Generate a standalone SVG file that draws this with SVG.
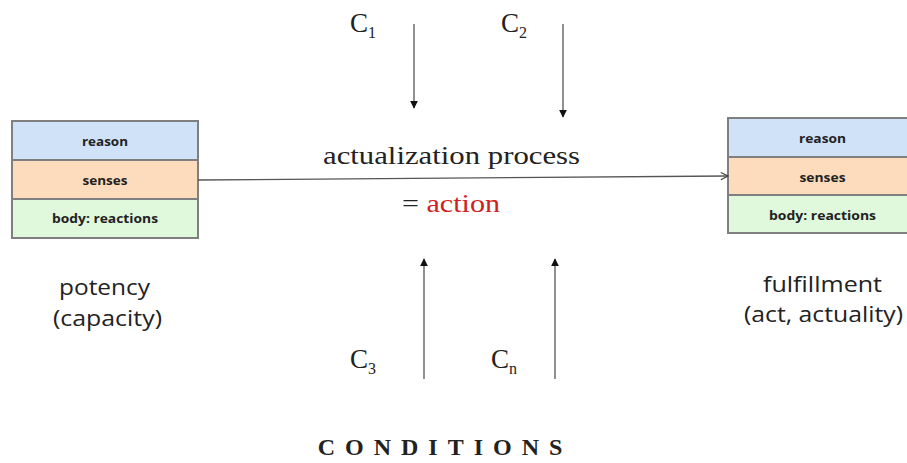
<svg xmlns="http://www.w3.org/2000/svg" width="907" height="463" viewBox="0 0 907 463">
<style>
.box{stroke:#7f7f7f;stroke-width:2}
.r{fill:#cfe2f8}.s{fill:#fcdcbd}.b{fill:#e0f8dc}
.bl{font-family:"Open Sans","Liberation Sans",sans-serif;font-weight:bold;font-size:12px;fill:#222;text-anchor:middle}
.cap{font-family:"Open Sans","Liberation Sans",sans-serif;font-size:22px;fill:#222;text-anchor:middle}
.tm{font-family:"Liberation Serif","Times New Roman",serif;fill:#222}
.ar{stroke:#555;stroke-width:1.3;fill:none}
</style>
<defs>
<marker id="tri" viewBox="0 0 10 10" refX="9" refY="5" markerWidth="8" markerHeight="8" markerUnits="userSpaceOnUse" orient="auto">
<path d="M0,0 L10,5 L0,10 z" fill="#111"/>
</marker>
<marker id="open" viewBox="0 0 10 10" refX="9" refY="5" markerWidth="9" markerHeight="9" markerUnits="userSpaceOnUse" orient="auto">
<path d="M1,1 L9,5 L1,9" fill="none" stroke="#444" stroke-width="1.3"/>
</marker>
</defs>
<g id="potency">
<rect class="box r" x="12" y="121" width="186" height="39"/>
<rect class="box s" x="12" y="160" width="186" height="39"/>
<rect class="box b" x="12" y="199" width="186" height="39"/>
<text class="bl" x="105" y="146" textLength="46" lengthAdjust="spacingAndGlyphs">reason</text>
<text class="bl" x="105" y="185" textLength="45" lengthAdjust="spacingAndGlyphs">senses</text>
<text class="bl" x="105" y="223" textLength="106" lengthAdjust="spacingAndGlyphs">body: reactions</text>
<text class="cap" x="104.5" y="295" textLength="91" lengthAdjust="spacingAndGlyphs">potency</text>
<text class="cap" x="107.5" y="326" textLength="109" lengthAdjust="spacingAndGlyphs">(capacity)</text>
</g>
<g id="fulfillment">
<rect class="box r" x="728" y="118" width="195" height="39"/>
<rect class="box s" x="728" y="157" width="195" height="38"/>
<rect class="box b" x="728" y="195" width="195" height="38"/>
<text class="bl" x="822.5" y="143" textLength="47" lengthAdjust="spacingAndGlyphs">reason</text>
<text class="bl" x="822.5" y="182" textLength="46" lengthAdjust="spacingAndGlyphs">senses</text>
<text class="bl" x="822.5" y="220" textLength="107" lengthAdjust="spacingAndGlyphs">body: reactions</text>
<text class="cap" x="822.5" y="292" textLength="119" lengthAdjust="spacingAndGlyphs">fulfillment</text>
<text class="cap" x="823.5" y="322" textLength="159" lengthAdjust="spacingAndGlyphs">(act, actuality)</text>
</g>
<g id="process">
<text class="tm" x="451.5" y="164" font-size="26" text-anchor="middle" textLength="257" lengthAdjust="spacingAndGlyphs">actualization process</text>
<text class="tm" x="451" y="212" font-size="26" text-anchor="middle" textLength="98" lengthAdjust="spacingAndGlyphs">= <tspan fill="#d02020">action</tspan></text>
</g>
<g id="conditions">
<text class="tm" x="350" y="32" font-size="27">C<tspan font-size="16" dy="6">1</tspan></text>
<text class="tm" x="501" y="32" font-size="27">C<tspan font-size="16" dy="6">2</tspan></text>
<text class="tm" x="350" y="368" font-size="27">C<tspan font-size="16" dy="6">3</tspan></text>
<text class="tm" x="491" y="368" font-size="27">C<tspan font-size="16" dy="6">n</tspan></text>
<text class="tm" x="445" y="455" font-size="24" font-weight="bold" letter-spacing="10" text-anchor="middle" fill="#111">CONDITIONS</text>
</g>
<g id="connectors">
<line class="ar" x1="198" y1="180" x2="728" y2="176" marker-end="url(#open)"/>
<line class="ar" x1="414" y1="24" x2="414" y2="108" marker-end="url(#tri)"/>
<line class="ar" x1="563" y1="24" x2="563" y2="117" marker-end="url(#tri)"/>
<line class="ar" x1="424" y1="379" x2="424" y2="259" marker-end="url(#tri)"/>
<line class="ar" x1="555" y1="379" x2="555" y2="259" marker-end="url(#tri)"/>
</g>
</svg>
